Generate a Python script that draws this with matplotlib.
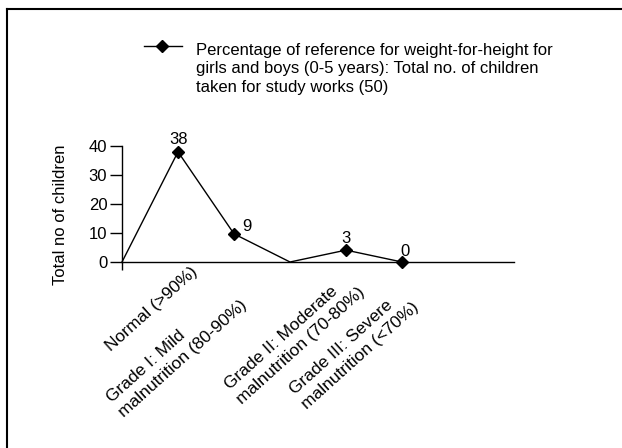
import matplotlib
matplotlib.use('Agg')
import matplotlib.pyplot as plt
import matplotlib.transforms as mtransforms
from matplotlib.lines import Line2D

plt.rcParams['font.family'] = ['Liberation Sans', 'DejaVu Sans']

# data
x_pos = [0, 1, 2, 3, 4, 5]
counts = [0, 38, 9.7, 0, 4.1, 0]
point_labels = ['', '38', '9', '', '3', '0']
marked = [1, 2, 4, 5]
categories = ['Normal (>90%)',
              'Grade I: Mild\nmalnutrition (80-90%)',
              'Grade II: Moderate\nmalnutrition (70-80%)',
              'Grade III: Severe\nmalnutrition (<70%)']
cat_pos = [1, 2, 4, 5]
legend_lines = ['Percentage of reference for weight-for-height for',
                'girls and boys (0-5 years): Total no. of children',
                'taken for study works (50)']
yticks = [0, 10, 20, 30, 40]

W, H = 622, 448
fig = plt.figure(figsize=(W / 100, H / 100), dpi=100)
ax = fig.add_axes([122 / W, 1 - 262 / H, (514 - 122) / W, (262 - 146) / H])

ax.plot(x_pos, counts, color='black', lw=1.0, marker='D', markersize=6.5,
        markevery=marked, clip_on=False)

ax.set_xlim(0, 7)
ax.set_ylim(0, 40)
ax.spines['top'].set_visible(False)
ax.spines['right'].set_visible(False)
ax.spines['left'].set_linewidth(1.0)
ax.spines['bottom'].set_linewidth(1.0)
ax.set_yticks(yticks)
ax.tick_params(axis='y', length=8.6, width=1.0, pad=2, labelsize=12)
ax.set_xticks([0])
ax.set_xticklabels([''])
ax.tick_params(axis='x', length=5.8, width=1.0)

ax.set_ylabel('Total no of children', fontsize=12)
ax.yaxis.set_label_coords(-(122 - 68) / 392, 0.405)

# point value labels (offsets in pixels)
lab_off = [(0, 0), (1, 5), (13, 0), (0, 0), (0, 4), (3, 3)]
for x, y, t, off in zip(x_pos, counts, point_labels, lab_off):
    if t:
        ax.annotate(t, (x, y), xytext=off, textcoords='offset pixels',
                    ha='center', va='bottom', fontsize=12)

# rotated category labels, each line anchored at its right end (pixel offsets)
line_off = [[(20, 11)],
            [(-48, 74), (14, 44)],
            [(-8, 30), (20, 31)],
            [(-9, 44), (18, 46)]]
for xc, txt, offs in zip(cat_pos, categories, line_off):
    for line, (dx, dy) in zip(txt.split('\n'), offs):
        tr = ax.transData + mtransforms.ScaledTranslation(dx / 100, -dy / 100, fig.dpi_scale_trans)
        ax.text(xc, 0, line, transform=tr, rotation=42, rotation_mode='anchor',
                ha='right', va='baseline', fontsize=12.5, clip_on=False)

# legend drawn by hand
fig.add_artist(Line2D([144 / W, 182 / W], [1 - 46 / H] * 2, color='black', lw=1.0))
fig.add_artist(Line2D([162 / W], [1 - 46 / H], marker='D', markersize=6.5, color='black'))
for i, line in enumerate(legend_lines):
    fig.text(196 / W, 1 - (55 + 18.5 * i) / H, line, fontsize=12, va='baseline', ha='left')

# chart frame (left and top edges)
fig.add_artist(Line2D([6.5 / W, 6.5 / W], [0, 1 - 9 / H], color='black', lw=1.5))
fig.add_artist(Line2D([6.5 / W, 1], [1 - 9 / H] * 2, color='black', lw=1.5))

fig.savefig('out.png', dpi=100)
